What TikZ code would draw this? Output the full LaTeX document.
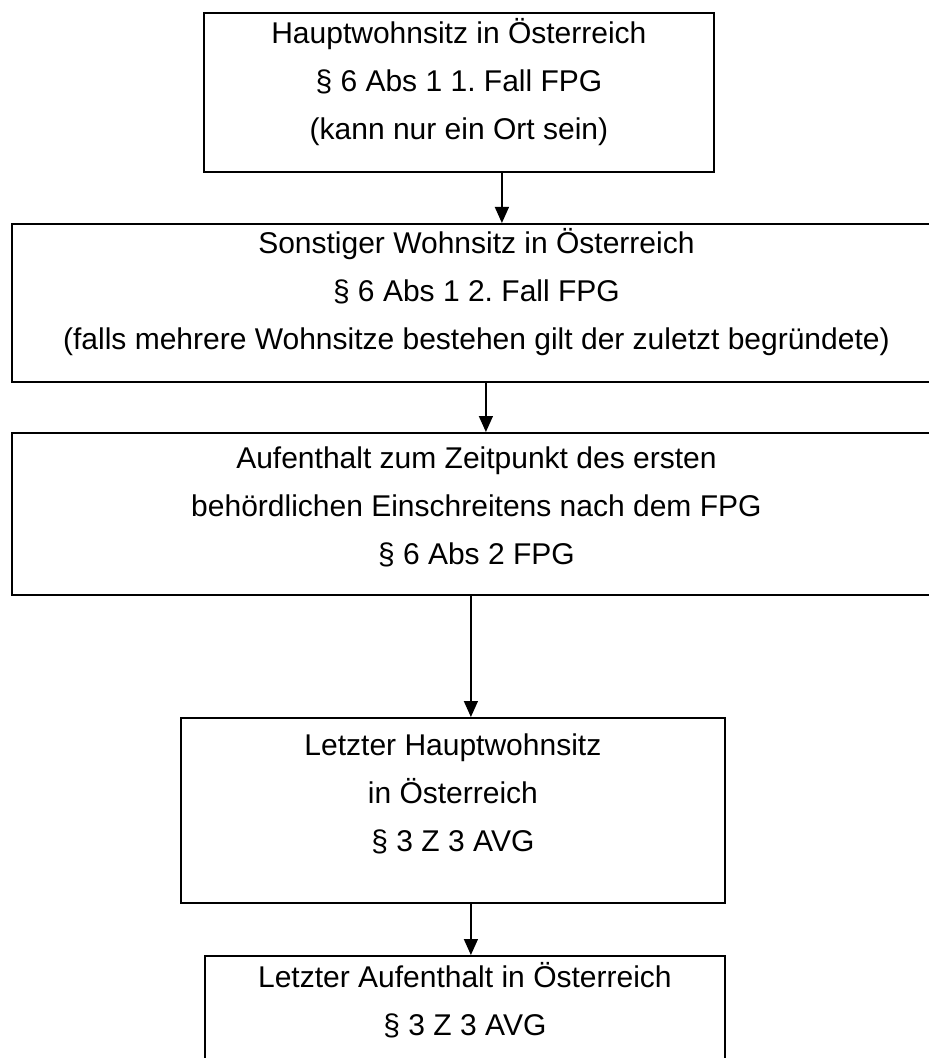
\documentclass[tikz,border=0pt]{standalone}
\usepackage{fontspec}
\setmainfont{Liberation Sans}
\usetikzlibrary{arrows.meta,positioning}
\frenchspacing
% text of one box: width, height, first baseline, lines
\newcommand{\boxtext}[4]{\parbox[t][#2][t]{#1}{\centering\fontsize{15}{24}\selectfont\rule{0pt}{#3}#4}}
\tikzset{
  stufe/.style={draw, line width=0.9pt, inner sep=0pt, anchor=north west},
  arr/.style={-{Triangle[length=8pt,width=7pt]}, line width=0.7pt},
}
\begin{document}
\begin{tikzpicture}[x=0.5pt,y=-0.5pt]
\useasboundingbox (0,0) rectangle (929,1058);
\node[stufe] (hws) at (203,12) {\boxtext{255pt}{79.5pt}{15.5pt}{Hauptwohnsitz in Österreich\\ § 6 Abs 1 1. Fall FPG\\ (kann nur ein Ort sein)}};
\node[stufe] (sonst) at (11,223) {\boxtext{464.5pt}{79pt}{15pt}{Sonstiger Wohnsitz in Österreich\\ § 6 Abs 1 2. Fall FPG\\ (falls mehrere Wohnsitze bestehen gilt der zuletzt begründete)}};
\node[stufe] (aufenth) at (11,432) {\boxtext{464.5pt}{81pt}{18pt}{Aufenthalt zum Zeitpunkt des ersten\\ behördlichen Einschreitens nach dem FPG\\ § 6 Abs 2 FPG}};
\node[stufe] (lhws) at (180,717) {\boxtext{272pt}{92.5pt}{19pt}{Letzter Hauptwohnsitz\\ in Österreich\\ § 3 Z 3 AVG}};
\node[stufe] (laufenth) at (204,955) {\boxtext{260pt}{65pt}{16pt}{Letzter Aufenthalt in Österreich\\ § 3 Z 3 AVG}};
\draw[arr] ([xshift=21.5pt]hws.south) -- ([xshift=21.5pt]hws.south |- sonst.north);
\draw[arr] ([xshift=4.75pt]sonst.south) -- ([xshift=4.75pt]sonst.south |- aufenth.north);
\draw[arr] ([xshift=9pt]lhws.north |- aufenth.south) -- ([xshift=9pt]lhws.north);
\draw[arr] ([xshift=3pt]laufenth.north |- lhws.south) -- ([xshift=3pt]laufenth.north);
\end{tikzpicture}
\end{document}
